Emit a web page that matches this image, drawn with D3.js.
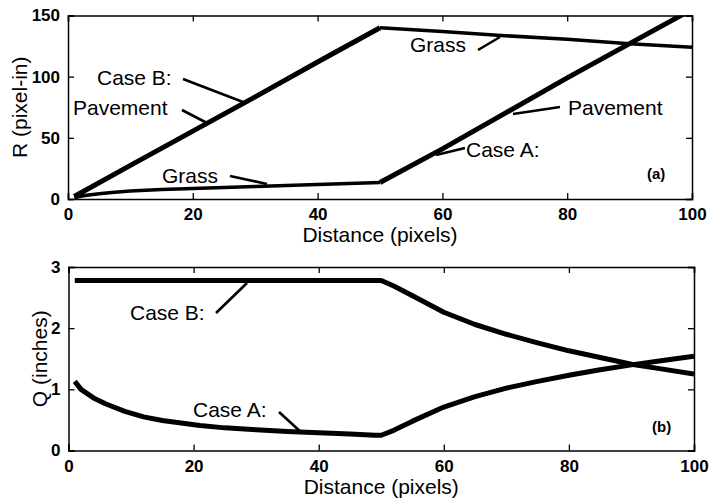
<!DOCTYPE html>
<html><head><meta charset="utf-8">
<script src="https://cdn.jsdelivr.net/npm/d3@7"></script>
<style>
html,body{margin:0;padding:0;background:#fff;}
svg{display:block;font-family:"Liberation Sans",Arial,Helvetica,sans-serif;}
</style></head><body>
<svg id="c" width="710" height="499"></svg>
<script>
// ---- data ----
const xTicks = [0, 20, 40, 60, 80, 100];
const rTicks = [0, 50, 100, 150];
const qTicks = [0, 1, 2, 3];

// Panel (a): R (pixel-in)
const caseAGrassX = [1, 2, 3, 5, 7, 10, 15, 20, 25, 30, 35, 40, 45, 50];
const caseAGrassR = [1, 2.2, 3, 4.3, 5.3, 6.5, 7.8, 8.6, 9.5, 10.3, 11.1, 11.9, 12.7, 13.5];
const caseAPaveX = [50, 60, 70, 80, 90, 100];
const caseAPaveR = [13.5, 41, 70, 99, 127, 155];
const caseBPaveX = [1, 10, 20, 30, 40, 50];
const caseBPaveR = [2, 27.5, 55.5, 83.5, 112, 140];
const caseBGrassX = [50, 60, 70, 80, 90, 100];
const caseBGrassR = [140, 137, 133.5, 130.5, 127, 124];

// Panel (b): Q (inches)
const caseAQX = [1, 2, 4, 6, 9, 12, 15, 21, 25, 30, 35, 40, 45, 49, 50, 52, 55, 60, 65, 70, 75, 80, 85, 90, 95, 100];
const caseAQ  = [1.13, 1.0, 0.86, 0.76, 0.64, 0.55, 0.49, 0.41, 0.37, 0.34, 0.31, 0.29, 0.27, 0.25, 0.25, 0.33, 0.48, 0.71, 0.88, 1.02, 1.13, 1.23, 1.32, 1.40, 1.47, 1.54];
const caseBQX = [1, 10, 20, 30, 40, 50, 52, 55, 60, 65, 70, 75, 80, 85, 90, 95, 100];
const caseBQ  = [2.78, 2.78, 2.78, 2.78, 2.78, 2.78, 2.69, 2.53, 2.26, 2.06, 1.90, 1.76, 1.63, 1.52, 1.41, 1.33, 1.25];

// ---- drawing ----
const svg = d3.select("#c");
const FONT = "'Liberation Sans', Arial, Helvetica, sans-serif";

function panel(cfg) {
  const g = svg.append("g");
  const x = d3.scaleLinear().domain([0, 100]).range([cfg.x0, cfg.x1]);
  const y = d3.scaleLinear().domain(cfg.yDomain).range([cfg.y1, cfg.y0]);
  const clipId = "clip" + cfg.id;
  svg.append("clipPath").attr("id", clipId).append("rect")
    .attr("x", cfg.x0).attr("y", cfg.y0).attr("width", cfg.x1 - cfg.x0).attr("height", cfg.y1 - cfg.y0);

  // axes (ticks inward)
  const tl = 6;
  const bottom = d3.axisBottom(x).tickValues(xTicks).tickSize(-tl).tickPadding(tl + 3).tickFormat(d3.format("d"));
  const top = d3.axisTop(x).tickValues(xTicks).tickSize(-tl).tickFormat("");
  const left = d3.axisLeft(y).tickValues(cfg.yTicks).tickSize(-tl).tickPadding(tl + 2).tickFormat(d3.format("d"));
  const right = d3.axisRight(y).tickValues(cfg.yTicks).tickSize(-tl).tickFormat("");
  const axs = [
    g.append("g").attr("transform", `translate(0,${cfg.y1})`).call(bottom),
    g.append("g").attr("transform", `translate(0,${cfg.y0})`).call(top),
    g.append("g").attr("transform", `translate(${cfg.x0},0)`).call(left),
    g.append("g").attr("transform", `translate(${cfg.x1},0)`).call(right)
  ];
  axs.forEach(a => {
    a.selectAll(".domain").attr("stroke", "#000").attr("stroke-width", 1.5);
    a.selectAll(".tick line").attr("stroke", "#000").attr("stroke-width", 1.3);
    a.selectAll("text").attr("fill", "#000").style("font-family", FONT)
      .style("font-size", "17px").style("font-weight", "bold");
  });
  axs[0].selectAll("text").attr("dy", "0.71em");

  const line = d3.line().x(d => x(d[0])).y(d => y(d[1]));
  const lines = g.append("g").attr("clip-path", `url(#${clipId})`);
  cfg.series.forEach(s => {
    lines.append("path").datum(d3.zip(s.x, s.y)).attr("d", line)
      .attr("fill", "none").attr("stroke", "#000").attr("stroke-width", s.w)
      .attr("stroke-linejoin", "round").attr("stroke-linecap", "butt");
  });

  // axis labels
  g.append("text").attr("x", (cfg.x0 + cfg.x1) / 2).attr("y", cfg.y1 + 43)
    .attr("text-anchor", "middle").style("font-family", FONT).style("font-size", "21px")
    .text("Distance (pixels)");
  g.append("text").attr("transform", `translate(${cfg.ylabX},${(cfg.y0 + cfg.y1) / 2}) rotate(-90)`)
    .attr("text-anchor", "middle").style("font-family", FONT).style("font-size", "21px")
    .text(cfg.ylab);

  // annotations
  cfg.notes.forEach(n => {
    g.append("text").attr("x", n.tx).attr("y", n.ty).style("font-family", FONT)
      .style("font-size", n.size || "21px").style("font-weight", n.bold ? "bold" : "normal")
      .text(n.t);
    if (n.l) g.append("line").attr("x1", n.l[0]).attr("y1", n.l[1]).attr("x2", n.l[2]).attr("y2", n.l[3])
      .attr("stroke", "#000").attr("stroke-width", 2.6);
  });
}

panel({
  id: "a", x0: 68, x1: 692, y0: 15.5, y1: 199, yDomain: [0, 150], yTicks: rTicks,
  ylab: "R (pixel-in)", ylabX: 27,
  series: [
    {x: caseBPaveX, y: caseBPaveR, w: 5},
    {x: caseBGrassX, y: caseBGrassR, w: 3.5},
    {x: caseAGrassX, y: caseAGrassR, w: 3.5},
    {x: caseAPaveX, y: caseAPaveR, w: 5}
  ],
  notes: [
    {t: "Case B:", tx: 97, ty: 85, l: [183, 79, 243, 102]},
    {t: "Pavement", tx: 73, ty: 115, l: [182, 110, 207, 123]},
    {t: "Grass", tx: 162, ty: 183, l: [230, 176, 267, 184]},
    {t: "Grass", tx: 410, ty: 52, l: [478, 50, 500, 37]},
    {t: "Pavement", tx: 568, ty: 115, l: [560, 107, 513, 114]},
    {t: "Case A:", tx: 466, ty: 157, l: [465, 148, 436, 155]},
    {t: "(a)", tx: 647, ty: 179, size: "15px", bold: true}
  ]
});

panel({
  id: "b", x0: 68.5, x1: 694, y0: 267, y1: 450.5, yDomain: [0, 3], yTicks: qTicks,
  ylab: "Q (inches)", ylabX: 47,
  series: [
    {x: caseBQX, y: caseBQ, w: 5},
    {x: caseAQX, y: caseAQ, w: 5}
  ],
  notes: [
    {t: "Case B:", tx: 130, ty: 320, l: [216, 313, 247, 283]},
    {t: "Case A:", tx: 193, ty: 417, l: [279, 412, 302, 433]},
    {t: "(b)", tx: 652, ty: 432, size: "15px", bold: true}
  ]
});
</script>
</body></html>
